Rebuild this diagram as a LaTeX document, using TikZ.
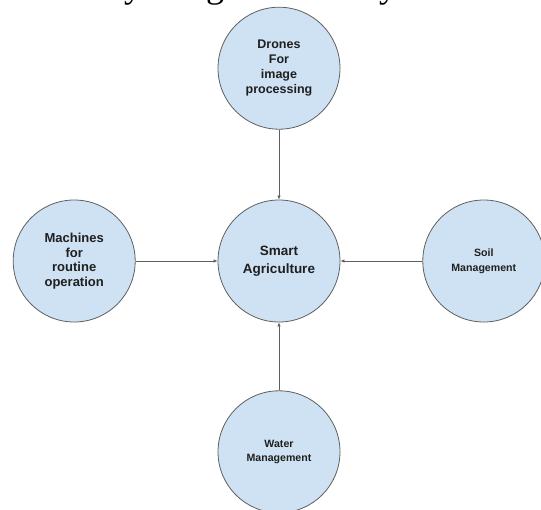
\documentclass[tikz,border=0pt]{standalone}
\usepackage{fontspec}
\setmainfont{Liberation Serif}
\setsansfont{Liberation Sans}
\usepackage{tikz}
\usetikzlibrary{positioning, arrows.meta}
\definecolor{bubblefill}{HTML}{CFE2F3}
\definecolor{bubbleline}{HTML}{5F5F5F}
\definecolor{bubbletext}{HTML}{1F1F1F}

\begin{document}
\begin{tikzpicture}[
  hub/.style={circle, draw=bubbleline, fill=bubblefill, line width=0.8pt,
    minimum size=122pt, inner sep=0pt, align=center, text=bubbletext},
  feed/.style={-{Latex[length=4pt,width=3.5pt]}, draw=bubbleline, line width=0.7pt}
]
  \useasboundingbox (0,0) rectangle (541pt,-509pt);

  % the centre and its four inputs
  \node[hub, font=\sffamily\bfseries\fontsize{13.5}{17.5}\selectfont] (agri) at (279pt,-261pt) {Smart\\Agriculture};
  \node[hub, above=70pt of agri, font=\sffamily\bfseries\fontsize{12.5}{15}\selectfont] (drones) {Drones\\For\\image\\processing};
  \node[hub, left=82pt of agri, font=\sffamily\bfseries\fontsize{13}{14.5}\selectfont] (machines) {Machines\\for\\routine\\operation};
  \node[hub, right=82pt of agri, font=\sffamily\bfseries\fontsize{10.6}{15}\selectfont] (soil) {Soil\\Management};
  \node[hub, below=68pt of agri, font=\sffamily\bfseries\fontsize{10.6}{13.5}\selectfont] (water) {Water\\Management};

  \draw[feed] (drones) -- (agri);
  \draw[feed] (machines) -- (agri);
  \draw[feed] (soil) -- (agri);
  \draw[feed] (water) -- (agri);

  % body text running above the figure
  \node[anchor=base west, inner sep=0pt, font=\fontsize{36}{40}\selectfont] (bodyline) at (-10pt,3pt) {of the way of agricultural systems.};
\end{tikzpicture}
\end{document}
